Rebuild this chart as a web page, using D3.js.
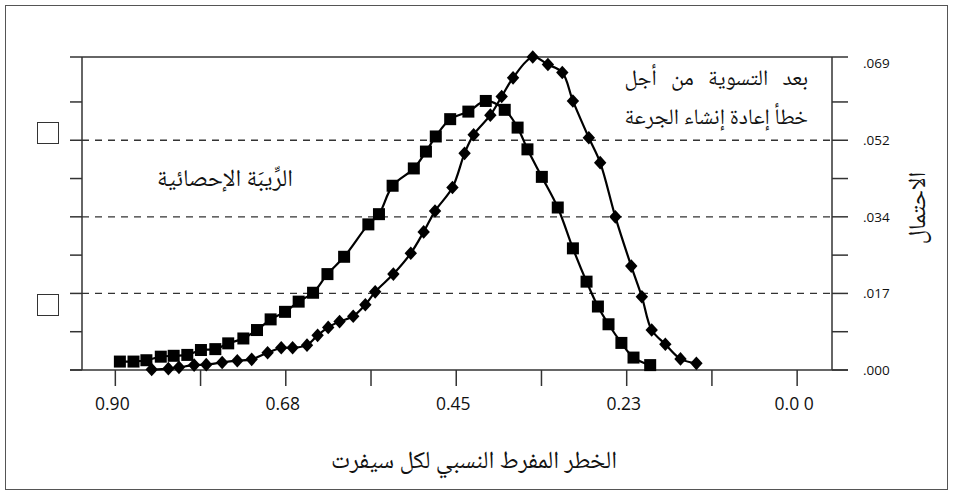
<!DOCTYPE html>
<html><head><meta charset="utf-8">
<script src="https://cdn.jsdelivr.net/npm/d3@7"></script>
<style>
html,body{margin:0;padding:0;background:#fff;}
svg{display:block;}
.num{font-family:'Open Sans','DejaVu Sans',sans-serif;fill:#111;}
.ar{font-family:'Noto Naskh Arabic','Noto Sans Arabic','DejaVu Sans',sans-serif;fill:#111;}
</style></head>
<body>
<svg id="c" width="953" height="493"></svg>
<script>
// Series 1: filled squares (الرِّيبَة الإحصائية)
const squareX = [0.894,0.876,0.859,0.840,0.823,0.805,0.787,0.768,0.751,0.731,0.713,0.695,0.676,0.658,0.639,0.620,0.598,0.566,0.552,0.534,0.506,0.490,0.477,0.458,0.434,0.411,0.386,0.369,0.356,0.337,0.316,0.296,0.278,0.263,0.249,0.232,0.216,0.194];
const squareY = [0.0019,0.0019,0.0022,0.0030,0.0032,0.0034,0.0045,0.0047,0.0060,0.0071,0.0090,0.0114,0.0131,0.0154,0.0174,0.0216,0.0255,0.0328,0.0351,0.0415,0.0454,0.0492,0.0526,0.0565,0.0582,0.0606,0.0586,0.0546,0.0497,0.0435,0.0366,0.0274,0.0199,0.0143,0.0103,0.0061,0.0028,0.0011];
// Series 2: filled diamonds (بعد التسوية من أجل خطأ إعادة إنشاء الجرعة)
const diamondX = [0.852,0.830,0.816,0.796,0.780,0.759,0.739,0.720,0.699,0.681,0.666,0.647,0.633,0.619,0.604,0.586,0.570,0.557,0.533,0.510,0.493,0.478,0.455,0.439,0.427,0.405,0.390,0.375,0.349,0.329,0.310,0.296,0.275,0.260,0.240,0.219,0.205,0.192,0.174,0.154,0.133];
const diamondY = [0.0001,0.0003,0.0006,0.0011,0.0012,0.0017,0.0021,0.0024,0.0039,0.0050,0.0050,0.0056,0.0078,0.0096,0.0109,0.0121,0.0147,0.0176,0.0216,0.0263,0.0311,0.0358,0.0411,0.0488,0.0530,0.0574,0.0616,0.0658,0.0705,0.0688,0.0670,0.0606,0.0523,0.0467,0.0345,0.0234,0.0165,0.0090,0.0058,0.0025,0.0015];
// Axis ticks
const xTickValues = [0.9,0.7875,0.675,0.5625,0.45,0.3375,0.225,0.1125,0];
const xTickLabels = ["0.90","","0.68","","0.45","","0.23","","0.0 0"];
const yTickValues = [0,0.008625,0.01725,0.025875,0.0345,0.043125,0.05175,0.060375];
const yLabelValues = [0,0.01725,0.0345,0.05175,0.069];
const yTickLabels = [".000",".017",".034",".052",".069"];
const gridValues = [0.01725,0.0345,0.05175];
const xTitle = "الخطر المفرط النسبي لكل سيفرت";
const yTitle = "الاحتمال";
const labelSquares = "الرِّيبَة الإحصائية";
const labelDiamonds = ["بعد التسوية من أجل","خطأ إعادة إنشاء الجرعة"];

const svg = d3.select("#c");
const L=82,R=832,T=57,B=370;
const x = d3.scaleLinear().domain([0.944,-0.046]).range([L,R]);
const y = d3.scaleLinear().domain([0,0.0705]).range([B,T]);

// outer border
svg.append("rect").attr("x",5.5).attr("y",5.5).attr("width",942).attr("height",484)
  .attr("fill","none").attr("stroke","#555").attr("stroke-width",1);

// dashed grid
svg.append("g").selectAll("line").data(gridValues).join("line")
  .attr("x1",L).attr("x2",R).attr("y1",d=>y(d)).attr("y2",d=>y(d))
  .attr("stroke","#333").attr("stroke-width",1.3).attr("stroke-dasharray","7,6");

// frame lines
const ax = svg.append("g").attr("stroke","#333").attr("stroke-width",1.5);
ax.append("line").attr("x1",L-12).attr("x2",R+16).attr("y1",T).attr("y2",T);
ax.append("line").attr("x1",L-12).attr("x2",R+16).attr("y1",B).attr("y2",B);
ax.append("line").attr("x1",L).attr("x2",L).attr("y1",T).attr("y2",B);
ax.append("line").attr("x1",R).attr("x2",R).attr("y1",T).attr("y2",B);
// y ticks both sides
ax.selectAll(".lt").data(yTickValues).join("line").attr("class","lt")
  .attr("x1",L-12).attr("x2",L).attr("y1",d=>y(d)).attr("y2",d=>y(d));
ax.selectAll(".rt").data(yTickValues).join("line").attr("class","rt")
  .attr("x1",R).attr("x2",R+16).attr("y1",d=>y(d)).attr("y2",d=>y(d));
// x ticks
ax.selectAll(".bt").data(xTickValues).join("line").attr("class","bt")
  .attr("x1",d=>x(d)).attr("x2",d=>x(d)).attr("y1",B).attr("y2",B+16);

// x tick labels
svg.append("g").selectAll("text").data(xTickValues.map((v,i)=>({v,t:xTickLabels[i]})).filter(d=>d.t))
  .join("text").attr("class","num").attr("x",d=>x(d.v)-3).attr("y",B+40)
  .attr("text-anchor","middle").attr("font-size",17.5).text(d=>d.t);
// y tick labels (right)
svg.append("g").selectAll("text").data(yLabelValues.map((v,i)=>({v,t:yTickLabels[i]})))
  .join("text").attr("class","num").attr("x",R+31).attr("y",d=>Math.max(y(d.v),T+4))
  .attr("dy","0.35em").attr("font-size",13.5).text(d=>d.t);

// series lines
const line = d3.line().x(d=>x(d[0])).y(d=>y(d[1])).curve(d3.curveCatmullRom.alpha(0.5));
const sq = squareX.map((v,i)=>[v,squareY[i]]);
const dm = diamondX.map((v,i)=>[v,diamondY[i]]);
svg.append("path").datum(sq).attr("d",line).attr("fill","none").attr("stroke","#000").attr("stroke-width",2.2);
svg.append("path").datum(dm).attr("d",line).attr("fill","none").attr("stroke","#000").attr("stroke-width",2.2);
// markers
svg.append("g").selectAll("rect").data(sq).join("rect")
  .attr("x",d=>x(d[0])-6).attr("y",d=>y(d[1])-6).attr("width",12).attr("height",12).attr("fill","#000");
svg.append("g").selectAll("path").data(dm).join("path")
  .attr("transform",d=>`translate(${x(d[0])},${y(d[1])})`)
  .attr("d","M0,-6.8L6.2,0L0,6.8L-6.2,0Z").attr("fill","#000");

// empty squares at left
svg.append("g").selectAll("rect").data([0,1]).join("rect")
  .attr("x",37.5).attr("y",d=>d?294.5:122.5).attr("width",21).attr("height",21)
  .attr("fill","none").attr("stroke","#333").attr("stroke-width",1);

// annotations
svg.append("text").attr("class","ar").attr("x",225).attr("y",186).attr("text-anchor","middle")
  .attr("font-size",24).text(labelSquares);
const a1 = svg.append("text").attr("class","ar").attr("x",808).attr("y",85).attr("text-anchor","end")
  .attr("font-size",22).text(labelDiamonds[0]);
const a2 = svg.append("text").attr("class","ar").attr("x",808).attr("y",123.5).attr("text-anchor","end")
  .attr("font-size",22).text(labelDiamonds[1]);
// justify first line to width of second
const w1 = a1.node().getComputedTextLength(), w2 = a2.node().getComputedTextLength();
if (w2 > w1) a1.attr("word-spacing", (w2-w1)/3);

// axis titles
svg.append("text").attr("class","ar").attr("x",474).attr("y",468).attr("text-anchor","middle")
  .attr("font-size",24.5).text(xTitle);
svg.append("text").attr("class","ar").attr("transform","translate(917,208) rotate(-90)")
  .attr("text-anchor","middle").attr("dy","0.35em").attr("font-size",24).text(yTitle);
</script>
</body></html>
